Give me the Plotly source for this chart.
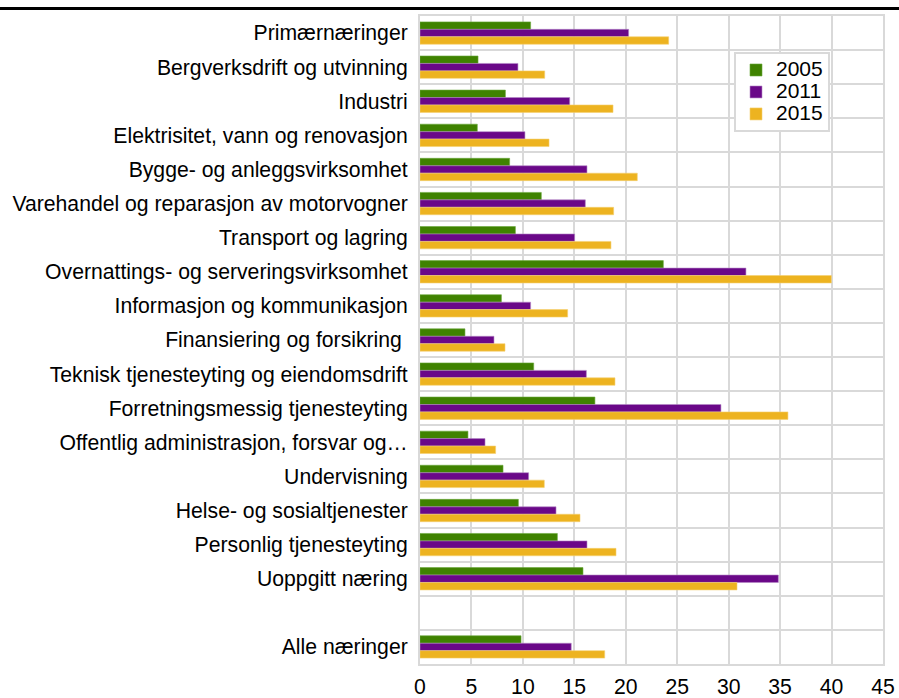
import plotly.graph_objects as go

categories = [
    "Primærnæringer",
    "Bergverksdrift og utvinning",
    "Industri",
    "Elektrisitet, vann og renovasjon",
    "Bygge- og anleggsvirksomhet",
    "Varehandel og reparasjon av motorvogner",
    "Transport og lagring",
    "Overnattings- og serveringsvirksomhet",
    "Informasjon og kommunikasjon",
    "Finansiering og forsikring\u00a0",
    "Teknisk tjenesteyting og eiendomsdrift",
    "Forretningsmessig tjenesteyting",
    "Offentlig administrasjon, forsvar og…",
    "Undervisning",
    "Helse- og sosialtjenester",
    "Personlig tjenesteyting",
    "Uoppgitt næring",
    "",
    "Alle næringer",
]

v2005 = [10.75, 5.64, 8.3, 5.57, 8.71, 11.79, 9.27, 23.65, 7.91, 4.37, 11.05, 17.0, 4.66, 8.07, 9.56, 13.35, 15.84, None, 9.82]
v2011 = [20.28, 9.52, 14.55, 10.2, 16.23, 16.07, 15.03, 31.68, 10.75, 7.19, 16.17, 29.25, 6.32, 10.56, 13.22, 16.23, 34.83, None, 14.7]
v2015 = [24.17, 12.12, 18.76, 12.54, 21.12, 18.82, 18.56, 39.98, 14.35, 8.26, 18.95, 35.76, 7.35, 12.08, 15.55, 19.05, 30.81, None, 17.95]

series_names = ["2005", "2011", "2015"]
series_values = [v2005, v2011, v2015]
series_colors = ["#3f8200", "#6a0888", "#edb320"]
series_edges = ["#6aa83a", "#b58ac8", "#f5d070"]

x_ticks = [0, 5, 10, 15, 20, 25, 30, 35, 40, 45]

ypos = list(range(len(categories)))

FONT = "Liberation Sans, Arial, sans-serif"
FS = 21.2
GRID = "#d9d9d9"

fig = go.Figure()
for name, vals, col, edge in zip(series_names, series_values, series_colors, series_edges):
    fig.add_trace(go.Bar(
        x=vals, y=ypos, orientation="h",
        name='<span style="font-size:21px">' + name + '</span>',
        marker=dict(color=col, line=dict(color=edge, width=0.6)),
    ))

fig.update_layout(
    width=899, height=698,
    margin=dict(l=420, r=16, t=16, b=34),
    paper_bgcolor="white", plot_bgcolor="white",
    barmode="group", bargap=0.345, bargroupgap=0,
    font=dict(family=FONT, size=FS, color="#000000"),
    legend=dict(
        x=(734 - 420) / 463, y=1 - (52 - 16) / 648, xanchor="left", yanchor="top",
        bgcolor="white", bordercolor=GRID, borderwidth=2,
        traceorder="normal", font=dict(size=14.6),
        tracegroupgap=0, itemwidth=30,
    ),
    xaxis=dict(
        range=[0, 45], tickvals=x_ticks, showgrid=True,
        gridcolor=GRID, gridwidth=2, zeroline=False,
        showline=True, linecolor=GRID, linewidth=2, mirror=True,
        ticks="", ticklabelstandoff=3, automargin=False,
        tickfont=dict(size=FS),
    ),
    yaxis=dict(
        range=[len(categories) - 0.5, -0.5],
        tickvals=ypos, ticktext=categories,
        showgrid=False, zeroline=False,
        showline=True, linecolor=GRID, linewidth=2, mirror=True,
        ticks="", ticklabelstandoff=6, automargin=False,
        minor=dict(tick0=0.5, dtick=1, showgrid=True, gridcolor=GRID, gridwidth=2),
        tickfont=dict(size=FS),
    ),
    shapes=[dict(type="line", xref="paper", yref="paper",
                 x0=-1.0, x1=1.1, y0=1 + 7.5 / 648, y1=1 + 7.5 / 648,
                 line=dict(color="black", width=3))],
)

fig.write_html(
    "out.html",
    config={"displayModeBar": False},
    post_script="document.body.style.margin='0';document.body.style.padding='0';",
)
